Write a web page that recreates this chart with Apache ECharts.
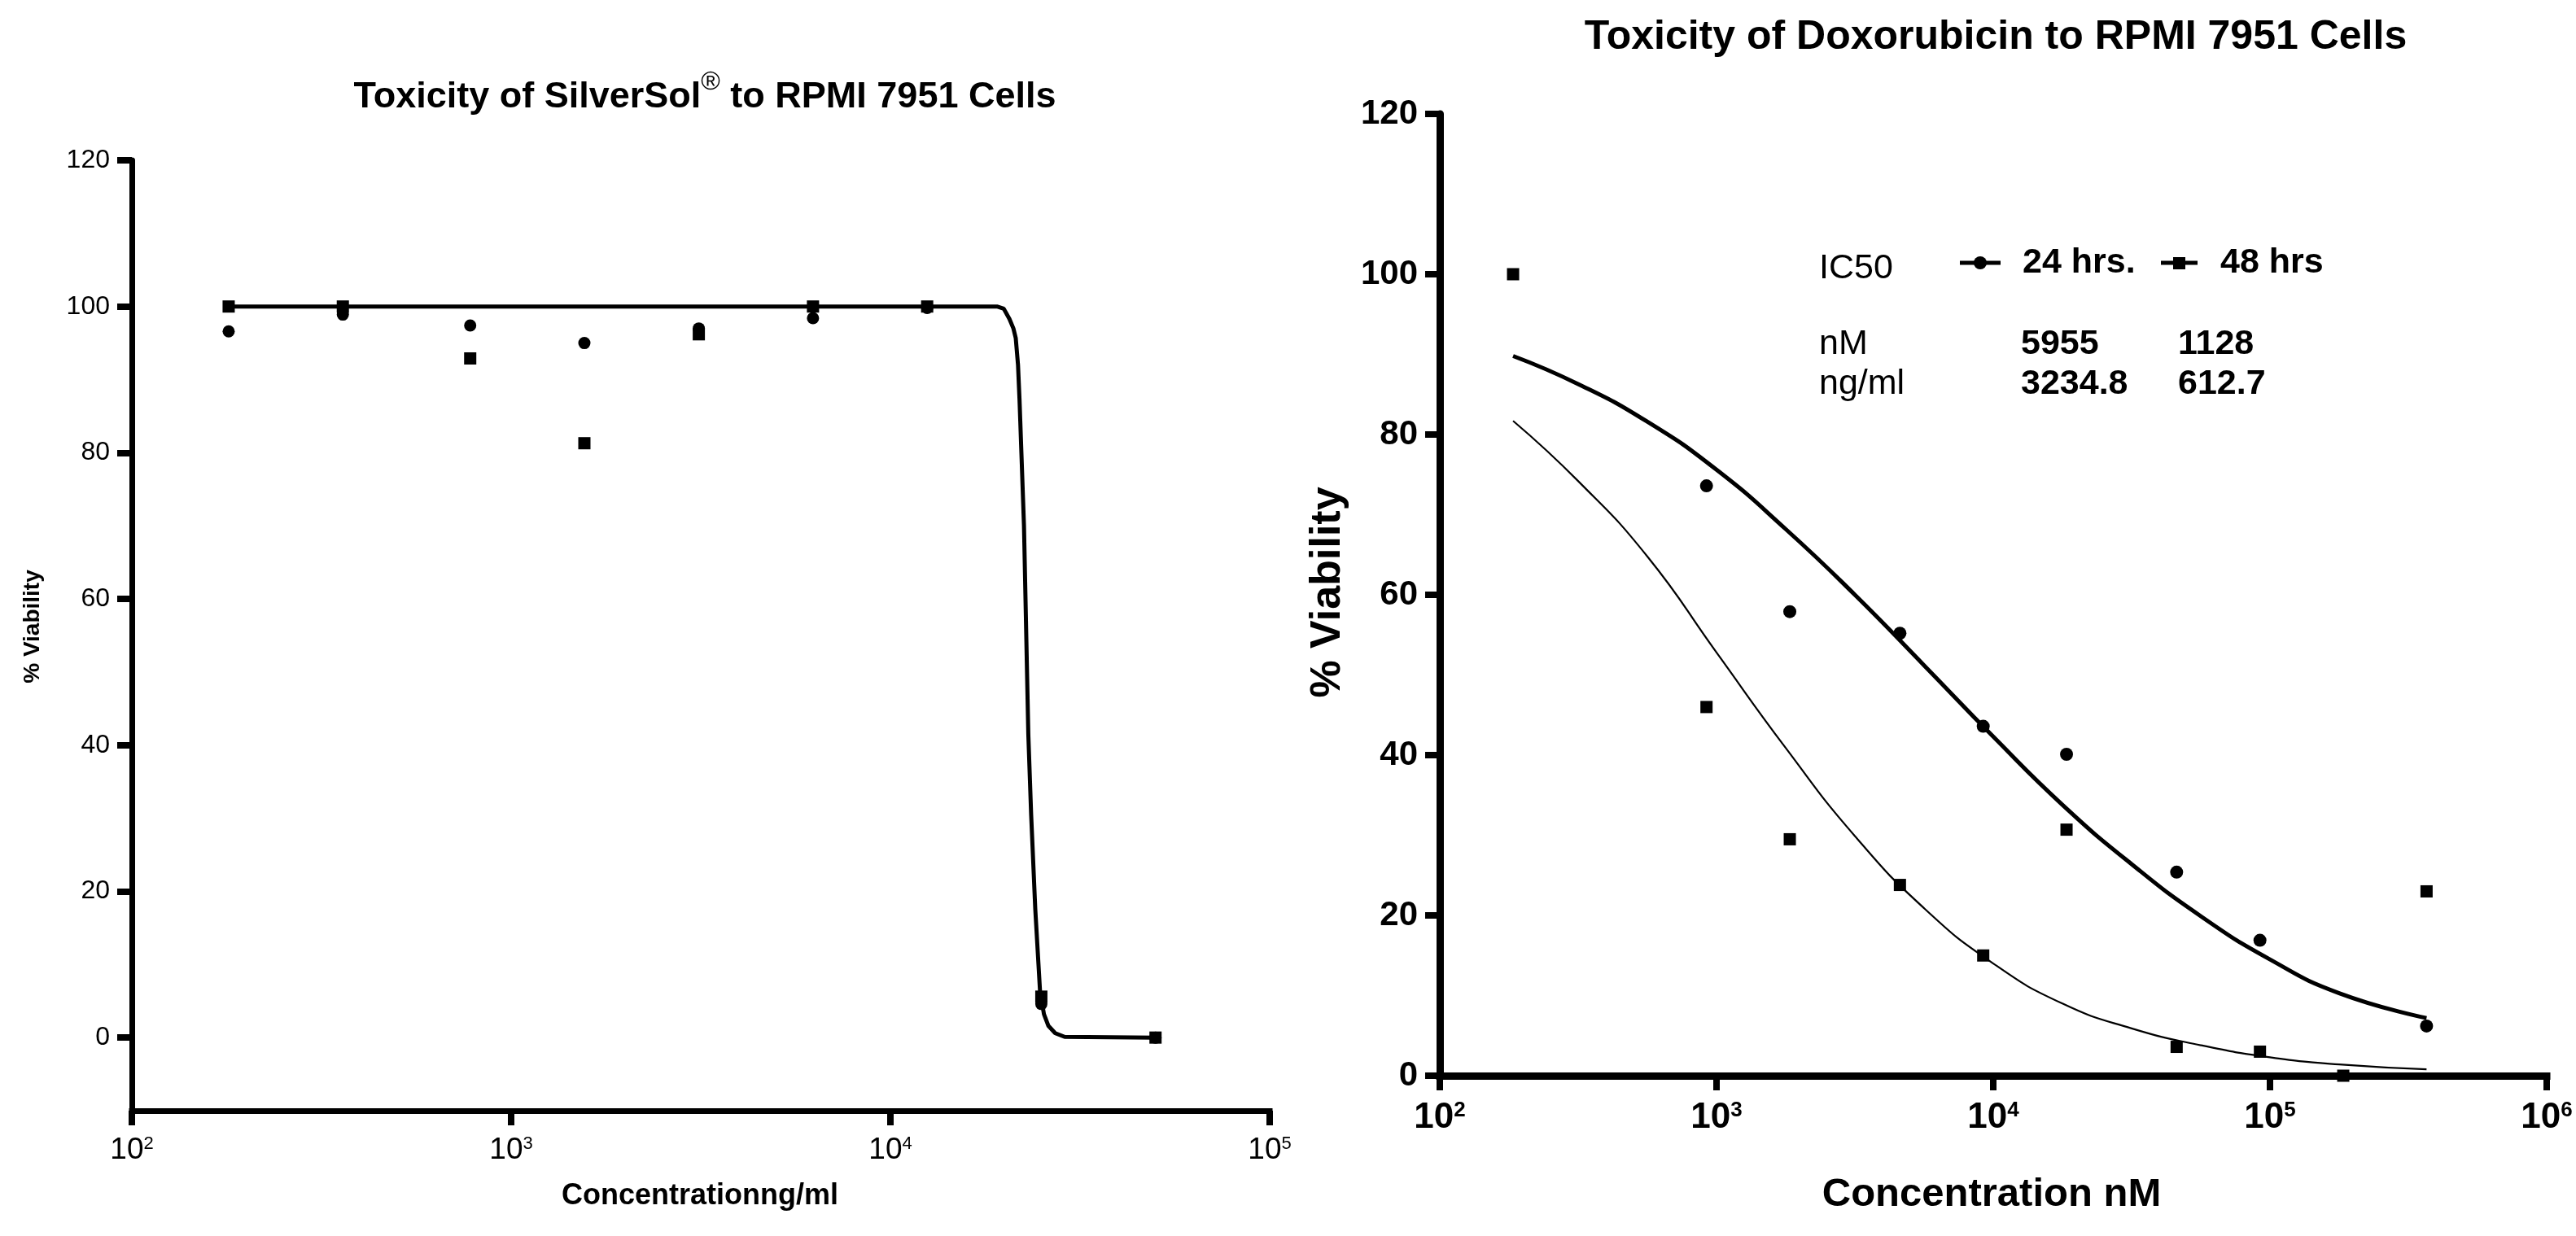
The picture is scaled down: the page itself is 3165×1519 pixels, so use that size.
<!DOCTYPE html>
<html>
<head>
<meta charset="utf-8">
<title>Toxicity to RPMI 7951 Cells</title>
<script src="https://cdn.jsdelivr.net/npm/echarts@6.0.0/dist/echarts.min.js"></script>
<style>
  html, body { margin: 0; padding: 0; background: #fff; }
  #main { width: 3165px; height: 1519px; }
</style>
</head>
<body>
<div id="main"></div>
<script>
// left panel: SilverSol, concentration in ng/ml
const silverConc = [180, 360, 780, 1560, 3125, 6250, 12500, 25000, 50000]
const silverCircle = [96.6, 98.9, 97.4, 95.0, 97.0, 98.4, 99.8, 4.6, 0]
const silverSquare = [100, 100, 92.9, 81.3, 96.2, 100, 100, 5.6, 0]
// fitted curve
const silverFitX = [180, 1000, 10000, 19100, 19900, 20600, 21100, 21400, 21700, 21900, 22500, 23100, 23500, 24100, 24800, 25400, 26100, 27200, 28800, 50000]
const silverFitY = [100, 100, 100, 100, 99.7, 98.3, 97.0, 95.7, 92.0, 87.2, 70, 41.5, 30.5, 17.5, 6.4, 3.2, 1.6, 0.6, 0.1, 0]

// right panel: Doxorubicin, concentration in nM
const doxConc = [184, 920, 1840, 4600, 9200, 18400, 46000, 92000, 184000, 368000]
const dox24 = [null, 73.6, 57.9, 55.2, 43.6, 40.1, 25.4, 16.9, null, 6.2]
const dox48 = [100, 46.0, 29.5, 23.8, 15.0, 30.7, 3.6, 3.0, 0, 23.0]
// fitted curves at quarter-decade steps
const fitX = [184, 316, 562, 1000, 1778, 3162, 5623, 10000, 17783, 31623, 56234, 100000, 177828, 368000]
const fit24Y = [89.8, 86.3, 81.6, 75.6, 68.2, 60.0, 51.2, 42.3, 33.8, 26.4, 19.9, 14.5, 10.3, 7.2]
const fit48Y = [81.7, 74.2, 64.8, 52.8, 40.9, 29.9, 20.9, 14.0, 9.0, 5.9, 3.8, 2.3, 1.4, 0.8]

const yTicks = [0, 20, 40, 60, 80, 100, 120]
const legendNames = ['24 hrs.', '48 hrs']
const ic50Rows = [['nM', '5955', '1128'], ['ng/ml', '3234.8', '612.7']]

const font = 'Liberation Sans, Arial, sans-serif'

function pairs(xs, ys) {
  return xs.map((x, i) => [x, ys[i]]).filter(p => p[1] != null)
}

function expLabel(v) {
  return '{b|10}{s|' + Math.round(Math.log10(v)) + '}'
}

function logAxis(grid, max, lw, size, supSize, weight) {
  return {
    type: 'log', logBase: 10, gridIndex: grid, min: 100, max: max,
    axisLine: { onZero: false, lineStyle: { color: '#000', width: lw, cap: 'square' } },
    axisTick: { length: 18, lineStyle: { color: '#000', width: 8 } },
    minorTick: { show: false },
    splitLine: { show: false },
    axisLabel: {
      margin: 30, color: '#000', formatter: expLabel,
      rich: {
        b: { fontSize: size, fontWeight: weight, fontFamily: font, color: '#000' },
        s: { fontSize: supSize, fontWeight: weight, fontFamily: font, color: '#000', verticalAlign: 'top' }
      }
    }
  }
}

function valAxis(grid, min, lw, size, weight) {
  return {
    type: 'value', gridIndex: grid, min: min, max: 120,
    axisLine: { show: true, onZero: false, lineStyle: { color: '#000', width: lw } },
    axisTick: { show: true, length: 18, customValues: yTicks, lineStyle: { color: '#000', width: 8 } },
    splitLine: { show: false },
    axisLabel: { customValues: yTicks, margin: 27, color: '#000', fontSize: size, fontWeight: weight, fontFamily: font }
  }
}

function txt(x, y, text, size, weight, align, rot) {
  return {
    type: 'text', x: x, y: y, rotation: rot || 0,
    style: { text: text, fontSize: size, fontWeight: weight, fontFamily: font, fill: '#000', align: align, verticalAlign: 'middle' }
  }
}

const graphics = [
  {
    type: 'text', x: 866, y: 120,
    style: {
      text: '{a|Toxicity of SilverSol}{s|®}{a| to RPMI 7951 Cells}',
      align: 'center', verticalAlign: 'middle',
      rich: {
        a: { fontSize: 45, fontWeight: 'bold', fontFamily: font, fill: '#000', lineHeight: 70 },
        s: { fontSize: 32, fontFamily: font, fill: '#000', lineHeight: 40, verticalAlign: 'top' }
      }
    }
  },
  txt(2452, 46, 'Toxicity of Doxorubicin to RPMI 7951 Cells', 50, 'bold', 'center'),
  txt(40, 770, '% Viability', 28, 'bold', 'center', Math.PI / 2),
  txt(860, 1470, 'Concentrationng/ml', 36, 'bold', 'center'),
  txt(1632, 728, '% Viability', 52, 'bold', 'center', Math.PI / 2),
  txt(2447, 1468, 'Concentration nM', 49, 'bold', 'center'),
  // IC50 box
  txt(2235, 330, 'IC50', 43, 'normal', 'left'),
  { type: 'line', shape: { x1: 2408, y1: 323, x2: 2458, y2: 323 }, style: { stroke: '#000', lineWidth: 5 } },
  { type: 'circle', shape: { cx: 2433, cy: 323, r: 8 }, style: { fill: '#000' } },
  txt(2485, 323, legendNames[0], 43, 'bold', 'left'),
  { type: 'line', shape: { x1: 2655, y1: 323, x2: 2700, y2: 323 }, style: { stroke: '#000', lineWidth: 5 } },
  { type: 'rect', shape: { x: 2670, y: 316, width: 15, height: 15 }, style: { fill: '#000' } },
  txt(2728, 323, legendNames[1], 43, 'bold', 'left')
]
ic50Rows.forEach((row, i) => {
  const y = 423 + i * 49
  graphics.push(txt(2235, y, row[0], 43, 'normal', 'left'))
  graphics.push(txt(2483, y, row[1], 43, 'bold', 'left'))
  graphics.push(txt(2676, y, row[2], 43, 'bold', 'left'))
})

const dot = { color: '#000', opacity: 1 }

const chart = echarts.init(document.getElementById('main'))
chart.setOption({
  animation: false,
  backgroundColor: '#fff',
  grid: [
    { left: 162, top: 197, width: 1398, height: 1168, outerBoundsMode: 'none' },
    { left: 1769, top: 140, width: 1360, height: 1182, outerBoundsMode: 'none' }
  ],
  xAxis: [
    logAxis(0, 100000, 7, 37, 22, 'normal'),
    logAxis(1, 1000000, 9, 44, 26, 'bold')
  ],
  yAxis: [
    valAxis(0, -10, 7, 32, 'normal'),
    valAxis(1, 0, 9, 42, 'bold')
  ],
  series: [
    { type: 'line', xAxisIndex: 0, yAxisIndex: 0, data: pairs(silverFitX, silverFitY), symbol: 'none', lineStyle: { color: '#000', width: 5 }, z: 2 },
    { type: 'scatter', xAxisIndex: 0, yAxisIndex: 0, data: pairs(silverConc, silverCircle), symbol: 'circle', symbolSize: 15, itemStyle: dot, z: 3 },
    { type: 'scatter', xAxisIndex: 0, yAxisIndex: 0, data: pairs(silverConc, silverSquare), symbol: 'rect', symbolSize: 15, itemStyle: dot, z: 3 },
    { name: legendNames[0], type: 'line', xAxisIndex: 1, yAxisIndex: 1, data: pairs(fitX, fit24Y), symbol: 'none', smooth: 0.5, lineStyle: { color: '#000', width: 5 }, z: 2 },
    { name: legendNames[1], type: 'line', xAxisIndex: 1, yAxisIndex: 1, data: pairs(fitX, fit48Y), symbol: 'none', smooth: 0.5, lineStyle: { color: '#000', width: 2.2 }, z: 2 },
    { type: 'scatter', xAxisIndex: 1, yAxisIndex: 1, data: pairs(doxConc, dox24), symbol: 'circle', symbolSize: 16, itemStyle: dot, z: 3 },
    { type: 'scatter', xAxisIndex: 1, yAxisIndex: 1, data: pairs(doxConc, dox48), symbol: 'rect', symbolSize: 15, itemStyle: dot, z: 3 }
  ],
  graphic: graphics
})
</script>
</body>
</html>
